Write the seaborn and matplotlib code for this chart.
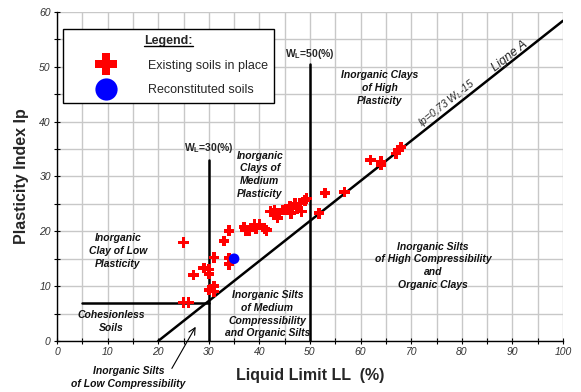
import numpy as np
import pandas as pd
import matplotlib
matplotlib.use("Agg")
import matplotlib.pyplot as plt
import seaborn as sns
from matplotlib.lines import Line2D

# Liquid limit LL (%) and plasticity index Ip (%) of the samples
existing_ll = [25, 25, 26, 27, 29, 30, 30, 30, 31, 31, 31, 33, 34, 34, 34,
               37, 37.3, 38, 39, 39.3, 40, 41, 41.4,
               42.2, 43, 43.2, 43.6, 44.7, 45.7, 46, 46.2, 47, 47.4, 48, 48.3, 49, 49.3,
               51.8, 53, 56.8, 62, 64, 64, 67, 67.5, 68]
existing_ip = [18, 7, 7, 12, 13.3, 13, 12.2, 9.3, 10, 9, 15.2, 18.2, 20.1, 15.1, 14,
               20.8, 20.2, 20.2, 21.2, 20.5, 21.2, 20.5, 20.2,
               23.6, 23.9, 23.2, 22.4, 23.9, 24, 24.6, 23.3, 25.1, 24.2, 25.1, 23.6, 25.6, 26,
               23.3, 27, 27.2, 33, 32.7, 32.1, 34.2, 34.8, 35.4]
reconstituted_ll = [35]
reconstituted_ip = [15]

label_existing = "Existing soils in place"
label_recon = "Reconstituted soils"

# Casagrande chart boundaries
a_line_ll = np.array([20, 100])        # Ligne A : Ip = 0.73 (LL - 20)
ll_low = 30                             # W_L = 30 %
ll_low_top = 33
ll_high = 50                            # W_L = 50 %
ll_high_top = 50.5
ip_cohesionless = 7
ll_cohesionless_start = 5

x_ticks = np.arange(0, 101, 10)
y_ticks = np.arange(0, 61, 10)

sns.set_theme(style="white")
plt.rcParams["font.family"] = ["Liberation Sans", "DejaVu Sans"]
plt.rcParams["mathtext.fontset"] = "custom"
plt.rcParams["mathtext.rm"] = "Liberation Sans"
plt.rcParams["mathtext.it"] = "Liberation Sans:italic"
plt.rcParams["mathtext.bf"] = "Liberation Sans:bold"

fig = plt.figure(figsize=(5.81, 3.92), dpi=100)
ax = fig.add_axes([57 / 581, 51 / 392, 506 / 581, 329 / 392])

df = pd.DataFrame({
    "LL": existing_ll + reconstituted_ll,
    "Ip": existing_ip + reconstituted_ip,
    "Sample": [label_existing] * len(existing_ll) + [label_recon] * len(reconstituted_ll),
})

sns.scatterplot(data=df, x="LL", y="Ip", hue="Sample", style="Sample",
                palette={label_existing: "#ff0000", label_recon: "#0000ff"},
                markers={label_existing: "P", label_recon: "o"},
                s=58, linewidth=0, ax=ax, zorder=4)

ax.set_xlim(0, 100)
ax.set_ylim(0, 60)
ax.set_xticks(x_ticks)
ax.set_yticks(y_ticks)
ax.set_xticks(np.arange(0, 101, 5), minor=True)
ax.set_yticks(np.arange(0, 61, 5), minor=True)
ax.grid(which="both", color="#c8c8c8", lw=1)
ax.set_axisbelow(True)
for side in ("top", "right"):
    ax.spines[side].set_visible(False)
for side in ("left", "bottom"):
    ax.spines[side].set_color("black")
    ax.spines[side].set_linewidth(1)
ax.tick_params(which="both", direction="inout", length=5, width=0.8, color="black",
               left=True, bottom=True)
ax.tick_params(which="major", labelsize=7.5, labelcolor="#333333", pad=2)
for lab in ax.get_xticklabels() + ax.get_yticklabels():
    lab.set_fontstyle("italic")

ax.set_xlabel("Liquid Limit LL  (%)", fontsize=11.5, fontweight="bold")
ax.set_ylabel("Plasticity Index Ip", fontsize=11.5, fontweight="bold")
ax.xaxis.set_label_coords(0.5, -0.082)
ax.yaxis.set_label_coords(-0.055, 0.5)

# Boundary lines
ax.plot(a_line_ll, 0.73 * (a_line_ll - 20), color="black", lw=1.8, zorder=3)
ax.plot([ll_low, ll_low], [0, ll_low_top], color="black", lw=1.8, zorder=3)
ax.plot([ll_high, ll_high], [0, ll_high_top], color="black", lw=1.8, zorder=3)
ax.plot([ll_cohesionless_start, ll_low], [ip_cohesionless, ip_cohesionless],
        color="black", lw=1.8, zorder=3)

zone_style = dict(fontsize=7.5, fontweight="bold", fontstyle="italic", color="#111111",
                  ha="center", va="center", linespacing=1.35, zorder=5)
ax.text(12, 16.4, "Inorganic\nClay of Low\nPlasticity", **zone_style)
ax.text(10.8, 3.6, "Cohesionless\nSoils", **zone_style)
ax.text(41.6, 4.9, "Inorganic Silts\nof Medium\nCompressibility\nand Organic Silts", **zone_style)
ax.text(40.1, 30.3, "Inorganic\nClays of\nMedium\nPlasticity", **zone_style)
ax.text(63.8, 46.1, "Inorganic Clays\nof High\nPlasticity", **zone_style)
ax.text(74.3, 13.7, "Inorganic Silts\nof High Compressibility\nand\nOrganic Clays", **zone_style)
ax.text(14.1, -6.7, "Inorganic Silts\nof Low Compressibility", clip_on=False, **zone_style)
ax.annotate("", xy=(27.4, 2.6), xytext=(22.7, -5), annotation_clip=False,
            arrowprops=dict(arrowstyle="->", color="black", lw=0.8,
                            shrinkA=0, shrinkB=0))

ax.text(30, 35.2, r"W$_\mathbf{L}$=30(%)", fontsize=7.5, fontweight="bold",
        ha="center", va="center", zorder=5)
ax.text(50, 52.3, r"W$_\mathbf{L}$=50(%)", fontsize=7.5, fontweight="bold",
        ha="center", va="center", zorder=5)

# Angle of the A line on screen
p0 = ax.transData.transform((a_line_ll[0], 0))
p1 = ax.transData.transform((a_line_ll[1], 0.73 * (a_line_ll[1] - 20)))
angle = np.degrees(np.arctan2(p1[1] - p0[1], p1[0] - p0[0]))
ax.text(77.1, 43.4, r"Ip=0,73 W$_\mathit{L}$-15", fontsize=7.5, fontstyle="italic",
        rotation=angle, rotation_mode="anchor", ha="center", va="center", zorder=5)
ax.text(89.5, 52.0, "Ligne A", fontsize=9, fontstyle="italic",
        rotation=angle, rotation_mode="anchor", ha="center", va="center", zorder=5)

# Legend
sns.move_legend(ax, "upper left", bbox_to_anchor=(0.012, 0.948), borderaxespad=0,
                title="Legend:", fontsize=9, title_fontsize=9, markerscale=2.1,
                frameon=True, fancybox=False, edgecolor="black", framealpha=1,
                borderpad=0.5, handlelength=5.9, handletextpad=0.4, labelspacing=1.0)
leg = ax.get_legend()
leg.get_frame().set_linewidth(1)
leg.get_title().set_fontweight("bold")
leg.set_zorder(6)

fig.canvas.draw()
tb = leg.get_title().get_window_extent()
fig.add_artist(Line2D([tb.x0, tb.x1], [tb.y0 + 1, tb.y0 + 1], color="black", lw=1,
                      transform=None, zorder=7))

fig.savefig("out.png", dpi=100)
